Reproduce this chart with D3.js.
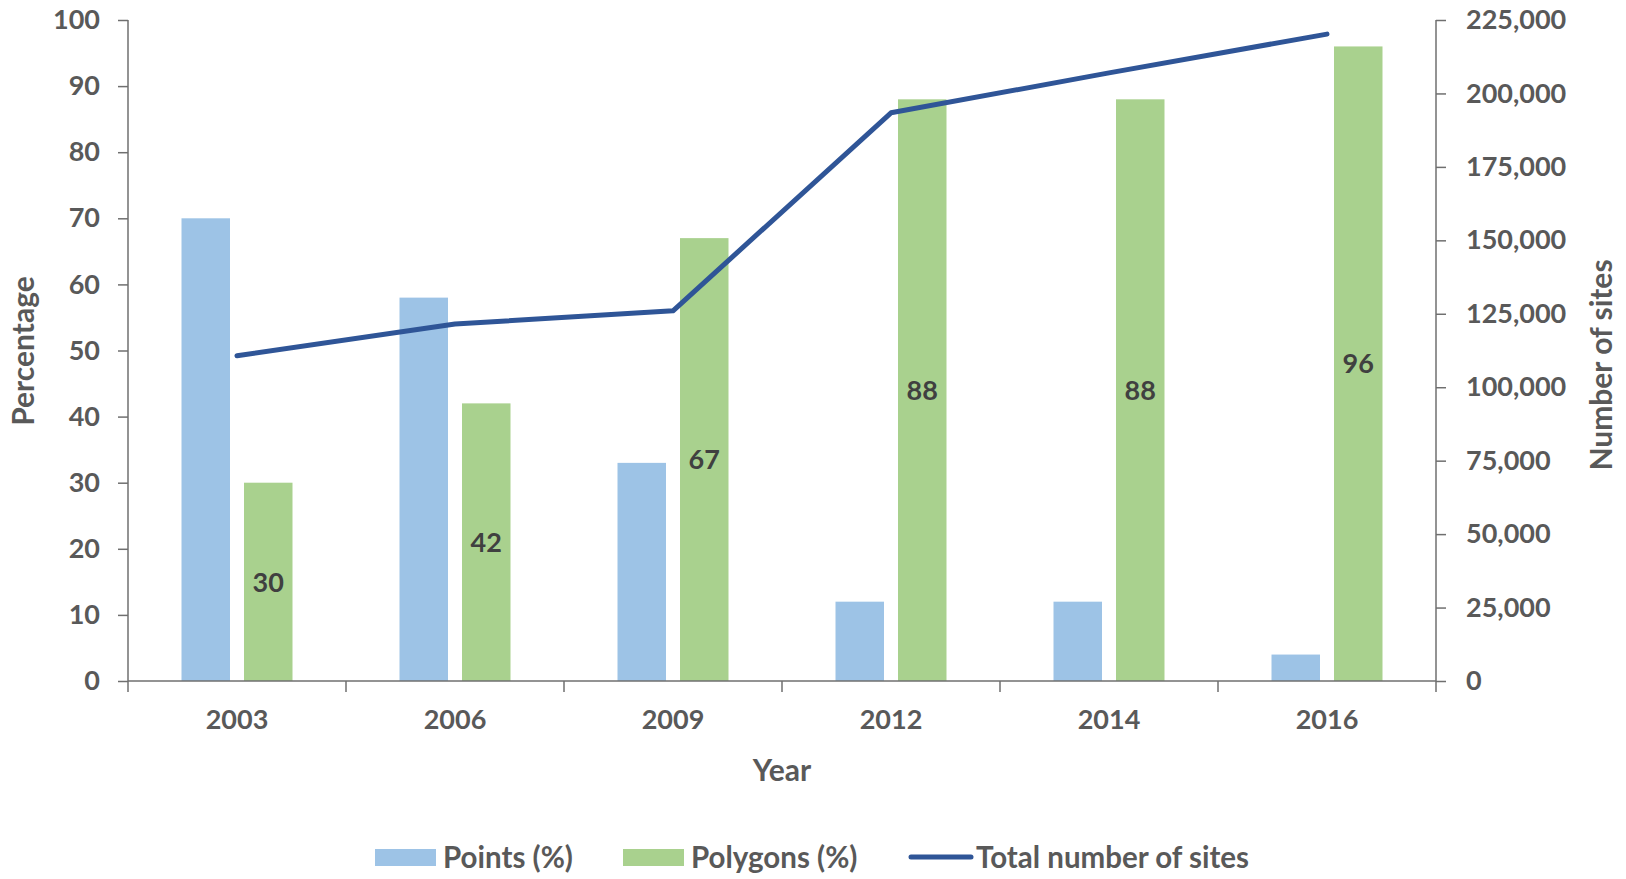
<!DOCTYPE html>
<html>
<head>
<meta charset="utf-8">
<script src="https://cdn.jsdelivr.net/npm/d3@7"></script>
<style>
  body { margin: 0; background: #fff; }
  text { font-family: Lato, "Open Sans", sans-serif; }
</style>
</head>
<body>
<div id="chart"></div>
<script>
//data
var years = ['2003', '2006', '2009', '2012', '2014', '2016'];
var points = [70, 58, 33, 12, 12, 4];
var polygons = [30, 42, 67, 88, 88, 96];
var totalSites = [110700, 121500, 126000, 193400, 207000, 220200];
var leftTicks = [0, 10, 20, 30, 40, 50, 60, 70, 80, 90, 100];
var rightTicks = [0, 25000, 50000, 75000, 100000, 125000, 150000, 175000, 200000, 225000];

//dims
var width = 1626;
var height = 879;
var plotLeft = 128, plotRight = 1436, plotTop = 20, plotBottom = 681;

var textColor = '#595959';
var axisColor = '#6f6f6f';
var fontSize = 27;
var titleSize = 30;

var svg = d3.select('#chart')
  .append('svg')
  .attr('width', width)
  .attr('height', height);

//scales
var x0 = d3.scaleBand().domain(years).range([plotLeft, plotRight]);
var groupW = 111;
var x1 = d3.scaleBand()
  .domain(['points', 'polygons'])
  .range([(x0.bandwidth() - groupW) / 2, (x0.bandwidth() + groupW) / 2])
  .paddingInner(0.224);
var y = d3.scaleLinear().domain([0, 100]).range([plotBottom, plotTop]);
var y2 = d3.scaleLinear().domain([0, 225000]).range([plotBottom, plotTop]);

var rows = years.map(function(yr, i) {
  return { year: yr, points: points[i], polygons: polygons[i], total: totalSites[i] };
});

//bars
var groups = svg.selectAll('g.grp')
  .data(rows)
  .enter()
  .append('g')
  .attr('class', 'grp')
  .attr('transform', function(d) { return 'translate(' + x0(d.year) + ',0)'; });

groups.append('rect')
  .attr('x', x1('points'))
  .attr('width', x1.bandwidth())
  .attr('y', function(d) { return y(d.points); })
  .attr('height', function(d) { return y(0) - y(d.points); })
  .attr('fill', '#9dc3e6');

groups.append('rect')
  .attr('x', x1('polygons'))
  .attr('width', x1.bandwidth())
  .attr('y', function(d) { return y(d.polygons); })
  .attr('height', function(d) { return y(0) - y(d.polygons); })
  .attr('fill', '#a9d18e');

groups.append('text')
  .attr('x', x1('polygons') + x1.bandwidth() / 2)
  .attr('y', function(d) { return (y(d.polygons) + y(0)) / 2; })
  .attr('dy', '0.36em')
  .attr('text-anchor', 'middle')
  .attr('font-size', fontSize)
  .attr('font-weight', 700)
  .attr('fill', '#404040')
  .text(function(d) { return d.polygons; });

//axes
var leftAxis = svg.append('g')
  .attr('transform', 'translate(' + plotLeft + ',0)')
  .call(d3.axisLeft(y).tickValues(leftTicks).tickSize(10).tickPadding(18));

var rightAxis = svg.append('g')
  .attr('transform', 'translate(' + plotRight + ',0)')
  .call(d3.axisRight(y2).tickValues(rightTicks).tickSize(10).tickPadding(20)
    .tickFormat(d3.format(',')));

var bottomAxis = svg.append('g')
  .attr('transform', 'translate(0,' + plotBottom + ')')
  .call(d3.axisBottom(x0).tickSize(0).tickPadding(29));

// category boundary ticks
svg.selectAll('line.bt')
  .data(d3.range(years.length + 1))
  .enter()
  .append('line')
  .attr('class', 'bt')
  .attr('x1', function(i) { return plotLeft + i * x0.step(); })
  .attr('x2', function(i) { return plotLeft + i * x0.step(); })
  .attr('y1', plotBottom)
  .attr('y2', plotBottom + 11)
  .attr('stroke', axisColor)
  .attr('stroke-width', 1.5);

[leftAxis, rightAxis, bottomAxis].forEach(function(a) {
  a.select('.domain').attr('stroke', axisColor).attr('stroke-width', 1.5);
  a.selectAll('.tick line').attr('stroke', axisColor).attr('stroke-width', 1.5);
  a.selectAll('.tick text')
    .attr('fill', textColor)
    .attr('font-size', fontSize)
    .attr('font-weight', 700)
    .attr('font-family', 'Lato, sans-serif');
});
bottomAxis.select('.domain').attr('d', 'M' + plotLeft + ',0H' + plotRight);
leftAxis.select('.domain').attr('d', 'M0,' + plotBottom + 'V' + plotTop);
rightAxis.select('.domain').attr('d', 'M0,' + plotBottom + 'V' + plotTop);

//line
var line = d3.line()
  .x(function(d) { return x0(d.year) + x0.bandwidth() / 2; })
  .y(function(d) { return y2(d.total); });

svg.append('path')
  .datum(rows)
  .attr('d', line)
  .attr('fill', 'none')
  .attr('stroke', '#2f5597')
  .attr('stroke-width', 5)
  .attr('stroke-linecap', 'round')
  .attr('stroke-linejoin', 'round');

//axis titles
svg.append('text')
  .attr('transform', 'translate(34,351) rotate(-90)')
  .attr('text-anchor', 'middle')
  .attr('font-size', titleSize)
  .attr('font-weight', 700)
  .attr('fill', textColor)
  .text('Percentage');

svg.append('text')
  .attr('transform', 'translate(1612,365) rotate(-90)')
  .attr('text-anchor', 'middle')
  .attr('font-size', titleSize)
  .attr('font-weight', 700)
  .attr('fill', textColor)
  .text('Number of sites');

svg.append('text')
  .attr('x', (plotLeft + plotRight) / 2)
  .attr('y', 781)
  .attr('text-anchor', 'middle')
  .attr('font-size', titleSize)
  .attr('font-weight', 700)
  .attr('fill', textColor)
  .text('Year');

//legend
var legendItems = [
  { label: 'Points (%)', color: '#9dc3e6', type: 'rect', x: 375 },
  { label: 'Polygons (%)', color: '#a9d18e', type: 'rect', x: 623 },
  { label: 'Total number of sites', color: '#2f5597', type: 'line', x: 908 }
];

var legend = svg.selectAll('g.leg')
  .data(legendItems)
  .enter()
  .append('g')
  .attr('class', 'leg')
  .attr('transform', function(d) { return 'translate(' + d.x + ',857)'; });

legend.filter(function(d) { return d.type === 'rect'; })
  .append('rect')
  .attr('x', 0)
  .attr('y', -8)
  .attr('width', 61)
  .attr('height', 17)
  .attr('fill', function(d) { return d.color; });

legend.filter(function(d) { return d.type === 'line'; })
  .append('line')
  .attr('x1', 3)
  .attr('x2', 63)
  .attr('y1', 0)
  .attr('y2', 0)
  .attr('stroke', function(d) { return d.color; })
  .attr('stroke-width', 5)
  .attr('stroke-linecap', 'round');

legend.append('text')
  .attr('x', 68)
  .attr('y', 0)
  .attr('dy', '0.36em')
  .attr('font-size', 29.5)
  .attr('font-weight', 700)
  .attr('fill', textColor)
  .text(function(d) { return d.label; });
</script>
</body>
</html>
